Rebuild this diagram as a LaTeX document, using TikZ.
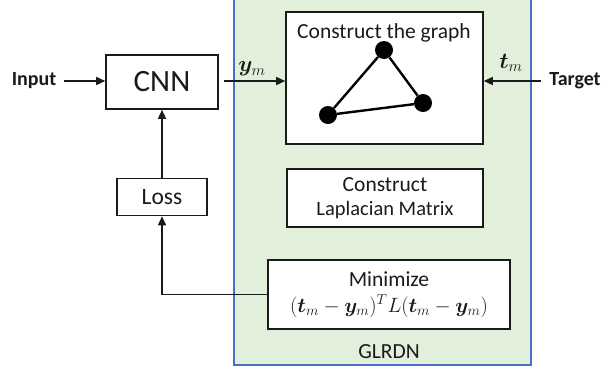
\documentclass[tikz,border=0pt]{standalone}
\usepackage{fix-cm}
\usepackage{amsmath}
\usepackage{bm}
\usepackage{fontspec}
\setmainfont{Carlito}
\usetikzlibrary{arrows.meta}
\definecolor{panelgreen}{HTML}{E2EFDA}
\definecolor{panelblue}{HTML}{4472C4}
\definecolor{ink}{HTML}{1A1A1A}
\begin{document}
\begin{tikzpicture}[x=1pt,y=-1pt,
  box/.style={draw=ink, line width=1.6pt, fill=white, inner sep=0pt, align=center,
    text=ink, font=\fontsize{21.5}{24}\selectfont},
  flow/.style={draw=ink, line width=1.5pt, -{Triangle[length=9pt,width=8pt]}},
  sidelabel/.style={font=\bfseries\fontsize{20}{24}\selectfont, inner sep=0pt, text=ink},
  plain/.style={font=\fontsize{21.5}{24}\selectfont, inner sep=0pt, text=ink},
  mathlabel/.style={font=\fontsize{22.5}{24}\selectfont, inner sep=0pt, text=ink},
  vertex/.style={circle, fill=black, minimum size=18pt, inner sep=0pt},
]
\useasboundingbox (0,0) rectangle (608,373);

% GLRDN panel (its top runs past the upper edge)
\begin{scope}
  \clip (0,0) rectangle (608,373);
  \draw[fill=panelgreen, draw=panelblue, line width=1.2pt] (234,-10) rectangle (531,365);
\end{scope}

% CNN and loss
\node[box, minimum width=112pt, minimum height=54pt] (cnn) at (162,82)
  {\fontsize{31}{34}\selectfont CNN};
\node[box, minimum width=90pt, minimum height=37pt] (loss) at (162,197)
  {\fontsize{23.5}{26}\selectfont Loss};

% graph construction block
\node[box, minimum width=197pt, minimum height=132pt] (graph) at (384.5,78) {};
\node[plain] (graphtitle) at (384,33) {Construct the graph};
\node[vertex] (v1) at (384,50) {};
\node[vertex] (v2) at (423,103) {};
\node[vertex] (v3) at (328,115) {};
\draw[line width=2.4pt] (v1) -- (v2);
\draw[line width=2.4pt] (v2) -- (v3);
\draw[line width=2.4pt] (v3) -- (v1);

% Laplacian and minimisation blocks
\node[box, minimum width=196pt, minimum height=58pt] (lap) at (385,198)
  {Construct\\{\fontsize{20.5}{24}\selectfont Laplacian Matrix}};
\node[box, minimum width=242pt, minimum height=69pt] (minz) at (389,294.5)
  {Minimize\\[2pt]{\fontsize{20.7}{24}\selectfont $(\bm{t}_m-\bm{y}_m)^T L(\bm{t}_m-\bm{y}_m)$}};
\node[plain] (glrdn) at (389,352) {GLRDN};

% inputs and outputs
\node[sidelabel] (input) at (34,81) {Input};
\node[sidelabel] (target) at (575,81) {Target};
\node[mathlabel] (ym) at (252,69) {$\bm{y}_m$};
\node[mathlabel] (tm) at (511,63) {$\bm{t}_m$};

% connectors
\draw[flow, shorten <=8pt] (input.east) -- (input.east -| cnn.west);
\draw[flow, shorten <=5pt] (cnn.east |- input.east) -- (input.east -| graph.west);
\draw[flow, shorten <=8pt] (target.west) -- (target.west -| graph.east);
\draw[flow] (loss) -- (cnn);
\draw[flow] (minz.west) -| (loss.south);
\end{tikzpicture}
\end{document}
